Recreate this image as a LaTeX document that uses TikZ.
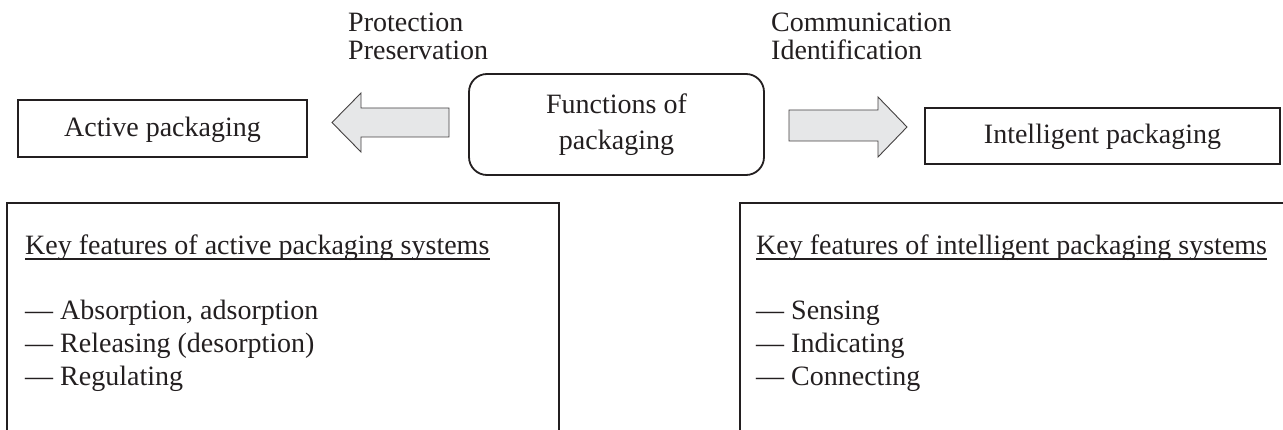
\documentclass[tikz,border=0pt]{standalone}
\usepackage{fontspec}
\setmainfont{Liberation Serif}
\usetikzlibrary{calc}
\definecolor{ink}{HTML}{231F20}
\definecolor{arrowfill}{HTML}{E6E7E8}
\begin{document}
\begin{tikzpicture}[x=1pt,y=-1pt,
  font=\fontsize{28}{29}\selectfont,
  box/.style={draw=ink, line width=1.8pt, inner sep=0pt, text=ink, align=center},
  txt/.style={inner sep=0pt, anchor=base west, text=ink},
  blockarrow/.style={draw=ink!85, fill=arrowfill, line width=0.9pt, line join=miter},
  uline/.style={draw=ink, line width=1.3pt}]
\useasboundingbox (0,0) rectangle (1283,430);
\clip (0,0) rectangle (1283,430);
\fill[white] (0,0) rectangle (1283,430);

% top boxes
\node[box, minimum width=289pt, minimum height=57pt, text depth=4pt] (active) at (162.5,128.5) {Active packaging};
\node[box, rounded corners=18pt, minimum width=295pt, minimum height=101pt,
      font=\fontsize{28}{36}\selectfont] (func) at (616.5,124.5) {Functions of\\packaging};
\node[box, minimum width=355pt, minimum height=56pt, text depth=4pt] (intel) at (1102.5,136) {Intelligent packaging};

% block arrows
\draw[blockarrow] (449,108) -- (361,108) -- (361,93) -- (332,122.5) -- (361,152) -- (361,137) -- (449,137) -- cycle;
\draw[blockarrow] (789,110) -- (878,110) -- (878,97) -- (907,127) -- (878,157) -- (878,141) -- (789,141) -- cycle;

% labels above arrows
\node[txt] (prot) at (348,32) {Protection};
\node[txt] (pres) at (348,60) {Preservation};
\node[txt] (comm) at (771,32) {Communication};
\node[txt] (iden) at (771,60) {Identification};

% bottom boxes
\draw[draw=ink, line width=1.8pt] (7,203) rectangle (559,460);
\draw[draw=ink, line width=1.8pt] (740,203) rectangle (1310,460);

\node[txt] (ka) at (25,255) {Key features of active packaging systems};
\draw[uline] ($(ka.base west)+(0,4)$) -- ($(ka.base east)+(0,4)$);
\node[txt] (a1) at (25,320) {— Absorption, adsorption};
\node[txt] (a2) at (25,352.5) {— Releasing (desorption)};
\node[txt] (a3) at (25,385) {— Regulating};

\node[txt] (ki) at (756,255) {Key features of intelligent packaging systems};
\draw[uline] ($(ki.base west)+(0,4)$) -- ($(ki.base east)+(0,4)$);
\node[txt] (i1) at (756,320) {— Sensing};
\node[txt] (i2) at (756,352.5) {— Indicating};
\node[txt] (i3) at (756,385) {— Connecting};
\end{tikzpicture}
\end{document}
